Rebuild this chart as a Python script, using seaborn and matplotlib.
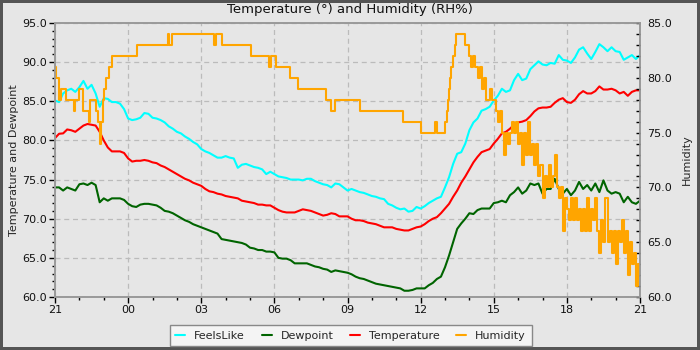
import numpy as np
import pandas as pd
import matplotlib
matplotlib.use("Agg")
import matplotlib.pyplot as plt
import seaborn as sns
from matplotlib.ticker import MultipleLocator, FormatStrFormatter

# ---- data -------------------------------------------------------------
# readings every 10 minutes, hours after 21:00
hours = np.arange(145) / 6.0

feels_like = [
    85.1, 84.9, 86.0, 86.4, 86.6, 86.2, 86.8, 87.6, 86.6, 87.1,
    86.0, 84.3, 85.4, 85.3, 84.9, 84.9, 84.7, 84.0, 82.8, 82.6,
    82.7, 82.9, 83.5, 83.4, 82.9, 82.8, 82.6, 82.3, 81.8, 81.5,
    81.1, 80.9, 80.5, 80.2, 79.8, 79.5, 78.9, 78.6, 78.4, 78.1,
    77.8, 77.8, 78.0, 77.8, 77.7, 76.5, 76.9, 77.0, 76.8, 76.6,
    76.5, 76.3, 75.7, 76.0, 75.7, 75.4, 75.3, 75.2, 75.0, 75.0,
    75.0, 74.9, 75.1, 75.1, 74.8, 74.6, 74.4, 74.3, 74.0, 74.5,
    74.4, 74.0, 73.6, 73.8, 73.6, 73.4, 73.3, 73.1, 72.9, 72.8,
    72.6, 72.5, 71.9, 71.7, 71.4, 71.2, 71.3, 70.9, 71.0, 71.5,
    71.3, 71.6, 72.0, 72.3, 72.6, 72.8, 74.0, 75.3, 77.0, 78.3,
    78.5, 79.6, 81.3, 82.3, 82.8, 83.8, 84.0, 84.3, 85.1, 85.7,
    86.6, 86.2, 86.4, 87.7, 88.5, 87.7, 87.9, 89.1, 89.6, 90.1,
    89.7, 89.6, 89.9, 89.8, 90.9, 90.3, 90.2, 89.9, 90.6, 91.6,
    91.9, 91.1, 90.4, 91.3, 92.3, 91.9, 91.4, 91.9, 91.4, 91.3,
    90.3, 90.6, 90.9, 90.4, 90.9,
]

dewpoint = [
    74.0, 74.0, 73.6, 74.0, 73.8, 73.6, 74.4, 74.5, 74.3, 74.6,
    74.3, 72.1, 72.6, 72.3, 72.6, 72.6, 72.6, 72.4, 71.9, 71.6,
    71.5, 71.8, 71.9, 71.9, 71.8, 71.7, 71.4, 71.0, 70.9, 70.7,
    70.4, 70.1, 69.8, 69.6, 69.3, 69.1, 68.9, 68.7, 68.5, 68.3,
    68.1, 67.4, 67.3, 67.2, 67.1, 67.0, 66.9, 66.7, 66.3, 66.2,
    66.0, 66.0, 65.8, 65.8, 65.7, 65.0, 64.9, 64.9, 64.7, 64.3,
    64.3, 64.3, 64.3, 64.1, 63.9, 63.8, 63.6, 63.5, 63.2, 63.4,
    63.3, 63.2, 63.1, 62.9, 62.6, 62.4, 62.3, 62.1, 61.9, 61.7,
    61.6, 61.5, 61.4, 61.3, 61.2, 61.1, 60.8, 60.8, 60.9, 61.1,
    61.1, 61.1, 61.5, 61.8, 62.3, 62.6, 63.8, 65.3, 67.0, 68.7,
    69.4, 70.0, 70.7, 70.6, 71.1, 71.3, 71.3, 71.3, 72.0, 72.1,
    72.3, 72.1, 73.0, 73.4, 74.0, 73.2, 73.6, 74.5, 74.3, 74.5,
    73.2, 73.8, 73.8, 75.1, 73.8, 73.2, 73.8, 73.0, 73.6, 74.7,
    73.8, 74.3, 73.6, 74.5, 73.4, 74.9, 73.6, 73.2, 73.4, 73.2,
    72.1, 72.8, 72.1, 71.9, 72.3,
]

temperature = [
    80.3, 80.85, 80.9, 81.4, 81.3, 81.1, 81.5, 81.9, 82.1, 82.0,
    81.9, 81.1, 80.0, 79.1, 78.6, 78.6, 78.6, 78.4, 77.7, 77.3,
    77.4, 77.4, 77.5, 77.4, 77.2, 77.1, 76.8, 76.6, 76.3, 76.0,
    75.7, 75.4, 75.1, 74.9, 74.6, 74.4, 74.2, 73.8, 73.5, 73.4,
    73.2, 73.1, 72.9, 72.8, 72.7, 72.6, 72.3, 72.2, 72.1, 72.0,
    71.8, 71.8, 71.7, 71.7, 71.4, 71.1, 70.9, 70.8, 70.8, 70.8,
    71.0, 71.2, 71.1, 71.0, 70.8, 70.6, 70.4, 70.5, 70.7, 70.6,
    70.3, 70.3, 70.3, 70.0, 69.8, 69.8, 69.7, 69.5, 69.4, 69.3,
    69.1, 68.9, 68.9, 68.9, 68.7, 68.6, 68.5, 68.5, 68.7, 68.9,
    69.0, 69.3, 69.7, 70.0, 70.2, 70.7, 71.3, 71.9, 72.8, 73.6,
    74.6, 75.4, 76.3, 77.2, 77.9, 78.5, 78.7, 78.9, 79.6, 80.2,
    80.9, 81.1, 81.5, 82.0, 82.3, 82.4, 82.6, 83.1, 83.7, 84.1,
    84.2, 84.2, 84.3, 84.8, 85.2, 85.4, 84.9, 84.8, 85.2, 85.9,
    86.3, 86.0, 86.0, 86.3, 86.9, 86.5, 86.5, 86.6, 86.4, 86.0,
    86.2, 85.7, 86.2, 86.4, 86.4,
]

# humidity: changes of the stepped reading (hours after 21:00, RH%)
hum_change_times = [
    0.00, 0.06, 0.17, 0.25, 0.45, 0.78, 0.84, 1.00, 1.16, 1.38,
    1.43, 1.70, 1.78, 1.83, 1.87, 1.95, 2.02, 2.08, 2.20, 2.32,
    3.37, 4.62, 4.66, 4.80, 6.53, 6.60, 6.84, 8.03, 8.77, 8.85,
    9.08, 9.66, 9.97, 11.13, 11.31, 11.48, 12.50, 14.28, 15.03, 15.60,
    15.66, 16.00, 16.07, 16.13, 16.18, 16.22, 16.26, 16.33, 16.40, 16.47,
]
hum_change_values = [
    81, 80, 78, 79, 78, 77, 78, 79, 77, 76,
    78, 77, 76, 74, 76, 78, 79, 80, 81, 82,
    83, 84, 83, 84, 83, 84, 83, 82, 81, 82,
    81, 80, 79, 78, 77, 78, 77, 76, 75, 76,
    75, 76, 77, 78, 79, 80, 81, 82, 83, 84,
]
# afternoon humidity, read every 5 minutes from 13:45
hum_late_times = 16.75 + np.arange(88) / 12.0
hum_late_values = [
    84, 83, 83, 82, 81, 82, 81, 80, 81, 79,
    80, 78, 78, 79, 78, 78, 77, 76, 77, 75,
    73, 75, 74, 75, 76, 75, 76, 74, 75, 72,
    75, 73, 76, 73, 74, 72, 74, 71, 72, 69,
    71, 70, 72, 70, 71, 73, 70, 69, 70, 66,
    69, 68, 67, 69, 67, 69, 67, 68, 66, 68,
    66, 69, 66, 68, 67, 69, 66, 64, 67, 65,
    69, 65, 66, 64, 66, 63, 66, 65, 67, 64,
    66, 62, 65, 63, 64, 61, 63, 62,
]

x_ticks = [0, 3, 6, 9, 12, 15, 18, 21, 24]
x_tick_labels = ["21", "00", "03", "06", "09", "12", "15", "18", "21"]

# ---- frames ----------------------------------------------------------
df = pd.DataFrame({"hours": hours, "FeelsLike": feels_like,
                   "Dewpoint": dewpoint, "Temperature": temperature})
hum_df = pd.DataFrame({
    "hours": np.concatenate([hum_change_times, hum_late_times]),
    "Humidity": np.concatenate([hum_change_values, hum_late_values]),
})

# ---- style -----------------------------------------------------------
bg = "#e6e6e6"
sns.set_style("white", {"axes.facecolor": bg, "figure.facecolor": bg})
plt.rcParams["font.family"] = ["DejaVu Sans"]

fig = plt.figure(figsize=(7, 3.5), dpi=100)
fig.patch.set_facecolor(bg)
fig.patch.set_edgecolor("#555555")
fig.patch.set_linewidth(4)

ax = fig.add_axes([55 / 700, 53 / 350, 585 / 700, 274 / 350])
ax.set_facecolor(bg)

colors = {"FeelsLike": "#00ffff", "Dewpoint": "#006400",
          "Temperature": "#ff0000", "Humidity": "#ffa500"}

for name in ["FeelsLike", "Dewpoint", "Temperature"]:
    sns.lineplot(data=df, x="hours", y=name, ax=ax, color=colors[name],
                 linewidth=1.5, label=name, estimator=None, sort=True)

ax2 = ax.twinx()
sns.lineplot(data=hum_df, x="hours", y="Humidity", ax=ax2,
             color=colors["Humidity"], linewidth=1.5, label="Humidity",
             drawstyle="steps-post", estimator=None)

# axes limits / ticks
ax.set_xlim(0, 24)
ax.set_ylim(60, 95)
ax2.set_ylim(60, 85)
ax.set_xticks(x_ticks)
ax.set_xticklabels(x_tick_labels)
ax.xaxis.set_minor_locator(MultipleLocator(1))
ax.yaxis.set_major_locator(MultipleLocator(5))
ax.yaxis.set_minor_locator(MultipleLocator(1))
ax.yaxis.set_major_formatter(FormatStrFormatter("%.1f"))
ax2.yaxis.set_major_locator(MultipleLocator(5))
ax2.yaxis.set_minor_locator(MultipleLocator(1))
ax2.yaxis.set_major_formatter(FormatStrFormatter("%.1f"))

ax.tick_params(axis="both", which="major", direction="out", length=4,
               width=1, color="black", labelsize=8, pad=2,
               labelcolor="#111111")
ax.tick_params(axis="both", which="minor", direction="out", length=2.5,
               width=1, color="black")
ax.tick_params(axis="y", left=True, right=False)
ax.tick_params(axis="x", bottom=True, which="both")
ax2.tick_params(axis="y", which="major", direction="in", length=3,
                width=1, color="black", labelsize=8, pad=5,
                labelcolor="#111111")
ax2.tick_params(axis="y", which="minor", direction="in", length=3,
                width=1, color="black")

ax.set_xlabel("")
ax.set_ylabel("Temperature and Dewpoint", fontsize=8, labelpad=2)
ax2.set_ylabel("Humidity", fontsize=8, labelpad=7)

for a in (ax, ax2):
    for s in a.spines.values():
        s.set_color("#999999")
        s.set_linewidth(1.2)
        s.set_visible(True)

ax.grid(True, which="major", linestyle=(0, (4, 3)), color="#bbbbbb",
        linewidth=0.9)
ax.set_axisbelow(True)

fig.suptitle("Temperature (°) and Humidity (RH%)", fontsize=9.5, y=0.99,
             color="#111111")

# legend
h1, l1 = ax.get_legend_handles_labels()
h2, l2 = ax2.get_legend_handles_labels()
for a in (ax, ax2):
    if a.get_legend() is not None:
        a.get_legend().remove()
leg = fig.legend(h1 + h2, l1 + l2, loc="upper center",
                 bbox_to_anchor=(0.501, 1 - 325 / 350), ncol=4, fontsize=8,
                 frameon=True, fancybox=False, edgecolor="#888888",
                 facecolor="#f4f4f4", framealpha=1, handlelength=0.9,
                 columnspacing=1.5, handletextpad=0.8,
                 borderpad=0.5, borderaxespad=0)
leg.get_frame().set_linewidth(1)

fig.savefig("out.png", dpi=100, facecolor=bg, edgecolor="#555555")
